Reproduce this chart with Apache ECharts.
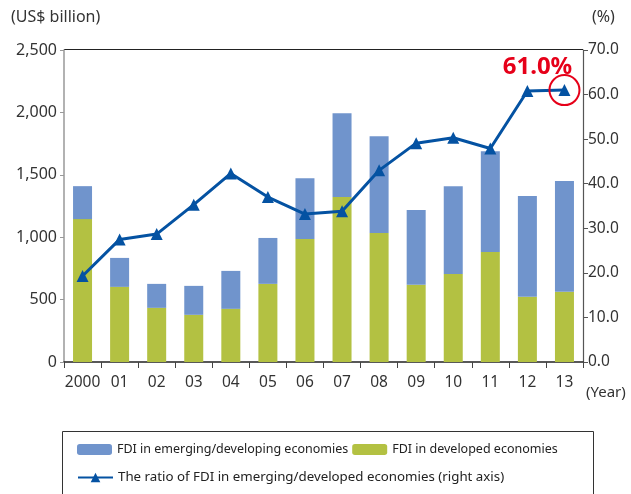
<!DOCTYPE html>
<html>
<head>
<meta charset="UTF-8">
<title>FDI chart</title>
<script src="https://cdn.jsdelivr.net/npm/echarts@6/dist/echarts.min.js"></script>
<style>
  html, body { margin: 0; padding: 0; background: #fff; }
  #main { width: 631px; height: 494px; }
</style>
</head>
<body>
<div id="main"></div>
<script type="text/javascript">
// data
var years = ['2000', '01', '02', '03', '04', '05', '06', '07', '08', '09', '10', '11', '12', '13'];
var developed = [1145, 602, 434, 378, 426, 626, 986, 1322, 1034, 618, 706, 882, 522, 562];
var emerging = [264, 232, 192, 232, 304, 368, 487, 671, 775, 600, 703, 807, 808, 888];
var ratio = [19.3, 27.5, 28.7, 35.3, 42.3, 37.0, 33.2, 33.8, 43.0, 49.1, 50.3, 47.9, 60.8, 61.0];

var FONT = 'Noto Sans';
var blue = '#7094cc';
var green = '#b3c142';
var lineBlue = '#0452a2';

var myChart = echarts.init(document.getElementById('main'));
var option = {
    animation: false,
    textStyle: { fontFamily: FONT },
    grid: { left: 64, right: 48, top: 50, bottom: 132 },
    legend: [
        {
            data: ['FDI in emerging/developing economies', 'FDI in developed economies'],
            left: 72, top: 438,
            itemWidth: 35, itemHeight: 11, itemGap: 4,
            textStyle: { fontFamily: FONT, fontSize: 12.5, color: '#222' }
        },
        {
            data: ['The ratio of FDI in emerging/developed economies (right axis)'],
            left: 72, top: 466,
            itemWidth: 35, itemHeight: 12,
            textStyle: { fontFamily: FONT, fontSize: 13.3, color: '#222' }
        }
    ],
    xAxis: {
        type: 'category',
        data: years,
        axisLine: { lineStyle: { color: '#222', width: 1.5 } },
        axisTick: { show: true, length: 6, lineStyle: { color: '#444' } },
        axisLabel: { color: '#333', fontSize: 15.5, margin: 13, interval: 0 }
    },
    yAxis: [
        {
            type: 'value', min: 0, max: 2500, interval: 500,
            axisLine: { show: true, lineStyle: { color: '#999', width: 1.5 } },
            axisTick: { show: true, length: 4, lineStyle: { color: '#999' } },
            splitLine: { show: false },
            axisLabel: {
                color: '#333', fontSize: 16, margin: 7,
                formatter: function (v) { return v.toLocaleString('en-US'); }
            }
        },
        {
            type: 'value', min: 0, max: 70, interval: 10,
            axisLine: { show: true, lineStyle: { color: '#555', width: 1.2 } },
            axisTick: { show: true, length: 5, lineStyle: { color: '#555' } },
            splitLine: { show: false },
            axisLabel: {
                color: '#333', fontSize: 15.5, margin: 5,
                formatter: function (v) { return v.toFixed(1); }
            }
        }
    ],
    series: [
        {
            name: 'FDI in developed economies',
            type: 'bar', stack: 'fdi', barWidth: 19,
            itemStyle: { color: green },
            data: developed
        },
        {
            name: 'FDI in emerging/developing economies',
            type: 'bar', stack: 'fdi', barWidth: 19,
            itemStyle: { color: blue },
            data: emerging
        },
        {
            name: 'The ratio of FDI in emerging/developed economies (right axis)',
            type: 'line', yAxisIndex: 1,
            symbol: 'triangle', symbolSize: 12,
            lineStyle: { color: lineBlue, width: 3 },
            itemStyle: { color: lineBlue },
            data: ratio,
            markPoint: {
                symbol: 'circle', symbolSize: 30,
                itemStyle: { color: 'rgba(0,0,0,0)', borderColor: '#e60019', borderWidth: 2 },
                label: {
                    show: true, formatter: '61.0%',
                    color: '#e60019', fontSize: 24, fontWeight: 'bold',
                    position: 'top', offset: [-27, 10]
                },
                data: [{ coord: [13, 61.0] }]
            }
        }
    ],
    graphic: [
        { type: 'text', left: 11, top: 9, style: { text: '(US$ billion)', font: '16px "Noto Sans"', fill: '#333' } },
        { type: 'text', left: 592, top: 9, style: { text: '(%)', font: '16px "Noto Sans"', fill: '#333' } },
        { type: 'text', left: 586, top: 385, style: { text: '(Year)', font: '15px "Noto Sans"', fill: '#333' } },
        { type: 'line', shape: { x1: 64, y1: 49.5, x2: 583, y2: 49.5 }, style: { stroke: '#222', lineWidth: 1.2 } },
        { type: 'rect', shape: { x: 62.5, y: 431.5, width: 531, height: 80 }, style: { fill: 'none', stroke: '#333', lineWidth: 1 } }
    ]
};
myChart.setOption(option);
</script>
</body>
</html>
